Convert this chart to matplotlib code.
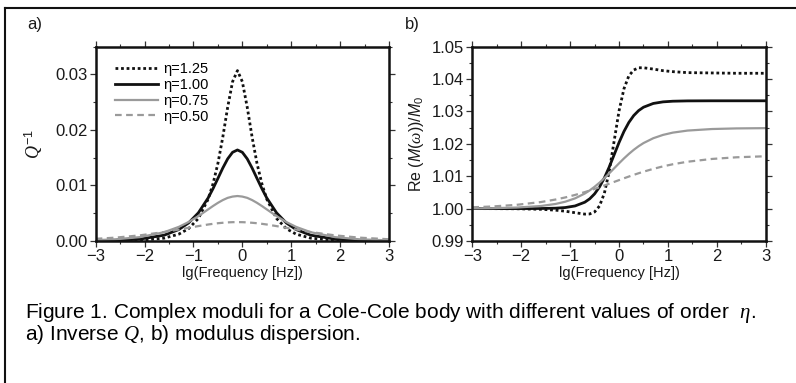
import matplotlib
matplotlib.use("Agg")
import matplotlib.pyplot as plt
from matplotlib.lines import Line2D
from matplotlib.ticker import MultipleLocator

# ---- data ----
lgf = [-3.0, -2.6, -2.1, -1.6, -1.3, -1.1, -0.9, -0.7, -0.6, -0.5, -0.4, -0.3, -0.2, -0.1,
       0.0, 0.1, 0.2, 0.3, 0.4, 0.5, 0.7, 0.9, 1.1, 1.4, 1.9, 2.4, 3.0]

eta_labels = ["η=1.25", "η=1.00", "η=0.75", "η=0.50"]

q_125 = [0.000009, 0.00003, 0.00012, 0.00051, 0.00123, 0.00222, 0.00406, 0.00753, 0.0103,
         0.01397, 0.0187, 0.0241, 0.0287, 0.0307, 0.0287, 0.0241, 0.0187, 0.01397, 0.0103,
         0.00753, 0.00406, 0.00222, 0.00123, 0.00051, 0.00012, 0.00003, 0.000005]
q_100 = [0.00004, 0.0001, 0.00033, 0.00104, 0.00206, 0.00325, 0.00507, 0.00775, 0.00943,
         0.01127, 0.01314, 0.0148, 0.01598, 0.0164, 0.01598, 0.0148, 0.01314, 0.01127, 0.00943,
         0.00775, 0.00507, 0.00325, 0.00206, 0.00104, 0.00033, 0.0001, 0.00003]
q_075 = [0.00015, 0.0003, 0.00069, 0.00158, 0.00254, 0.00341, 0.00448, 0.00569, 0.0063,
         0.00687, 0.00737, 0.00777, 0.0080, 0.0081, 0.0080, 0.00777, 0.00737, 0.00687, 0.0063,
         0.00569, 0.00448, 0.00341, 0.00254, 0.00158, 0.00069, 0.0003, 0.00011]
q_050 = [0.00039, 0.0006, 0.00101, 0.00161, 0.00206, 0.00237, 0.00268, 0.00297, 0.00309,
         0.0032, 0.00328, 0.00335, 0.00339, 0.0034, 0.00339, 0.00335, 0.00328, 0.0032, 0.00309,
         0.00297, 0.00268, 0.00237, 0.00206, 0.00161, 0.00101, 0.0006, 0.00031]

m_125 = [1.0000, 0.99999, 0.99995, 0.99979, 0.99952, 0.9992, 0.99873, 0.9983, 0.99835,
         0.99897, 1.0008, 1.00476, 1.0116, 1.0209, 1.0302, 1.0370, 1.0410, 1.0428, 1.0435,
         1.0435, 1.0431, 1.0426, 1.0423, 1.0420, 1.0419, 1.0418, 1.0418]
m_100 = [1.0000, 1.0000, 1.0000, 1.00003, 1.00013, 1.00033, 1.00082, 1.00198, 1.00303,
         1.00456, 1.00669, 1.00948, 1.01288, 1.01665, 1.02042, 1.02382, 1.02661, 1.02874,
         1.03027, 1.03132, 1.03248, 1.03297, 1.03317, 1.03327, 1.0333, 1.0333, 1.0333]
m_075 = [1.00006, 1.00013, 1.00032, 1.0008, 1.00143, 1.00213, 1.00316, 1.00466, 1.00563,
         1.00675, 1.00801, 1.00941, 1.0109, 1.01245, 1.01399, 1.01549, 1.01688, 1.01815,
         1.01927, 1.02024, 1.02174, 1.02277, 1.02347, 1.0241, 1.02458, 1.02477, 1.02485]
m_050 = [1.00041, 1.00065, 1.00116, 1.00202, 1.0028, 1.00345, 1.00422, 1.0051, 1.00558,
         1.00608, 1.0066, 1.00714, 1.0077, 1.00825, 1.0088, 1.00936, 1.0099, 1.01042,
         1.01092, 1.0114, 1.01228, 1.01305, 1.0137, 1.01448, 1.01534, 1.01585, 1.01617]

# ---- style ----
plt.rcParams['font.family'] = ['Liberation Sans', 'DejaVu Sans']
plt.rcParams['mathtext.fontset'] = 'custom'
plt.rcParams['mathtext.rm'] = 'Liberation Sans'
plt.rcParams['mathtext.it'] = 'Liberation Serif:italic'
plt.rcParams['mathtext.sf'] = 'Liberation Sans:italic'
plt.rcParams['mathtext.bf'] = 'Liberation Sans:bold'

styles = [
    dict(color='#111111', lw=2.0, ls=(0, (1, 1))),
    dict(color='#111111', lw=2.0, ls='-'),
    dict(color='#9a9a9a', lw=1.6, ls='-'),
    dict(color='#9a9a9a', lw=1.6, ls=(0, (3, 2))),
]

fig = plt.figure(figsize=(7.96, 3.83), dpi=100)
ax_a = fig.add_axes([0.1202, 0.3708, 0.3685, 0.5072])
ax_b = fig.add_axes([0.5934, 0.3708, 0.3686, 0.5072])


def style_axes(ax, ymin, ymax, ymaj, ymin_step, yfmt):
    ax.set_xlim(-3, 3)
    ax.set_ylim(ymin, ymax)
    ax.xaxis.set_major_locator(MultipleLocator(1))
    ax.xaxis.set_minor_locator(MultipleLocator(0.5))
    ax.yaxis.set_major_locator(MultipleLocator(ymaj))
    ax.yaxis.set_minor_locator(MultipleLocator(ymin_step))
    ax.yaxis.set_major_formatter(plt.FormatStrFormatter(yfmt))
    for s in ax.spines.values():
        s.set_linewidth(1.8)
        s.set_color('#111111')
    ax.tick_params(which='both', direction='out', top=True, right=True,
                   labeltop=False, labelright=False, color='#333333')
    ax.tick_params(which='major', length=4, width=0.9, labelsize=12, pad=2,
                   labelcolor='#1a1a1a')
    ax.tick_params(which='minor', length=2, width=0.8)
    ax.set_xlabel('lg(Frequency [Hz])', fontsize=10.5, labelpad=1, color='#1a1a1a')


q_series = [q_125, q_100, q_075, q_050]
m_series = [m_125, m_100, m_075, m_050]

for ys, st, lab in zip(q_series, styles, eta_labels):
    ax_a.plot(lgf, ys, label=lab, **st)
for ys, st in zip(m_series, styles):
    ax_b.plot(lgf, ys, **st)

style_axes(ax_a, 0.0, 0.035, 0.01, 0.005, '%.2f')
style_axes(ax_b, 0.99, 1.05, 0.01, 0.005, '%.2f')

ax_a.set_ylabel('$Q^{-1}$', fontsize=13, labelpad=7, color='#1a1a1a')
ax_b.set_ylabel(r'Re $(\mathsf{M}(\omega))/\mathsf{M}_0$', fontsize=11.5, labelpad=4,
                color='#1a1a1a')

ax_a.legend(loc='upper left', frameon=False, fontsize=10.5, handlelength=3.0,
            handletextpad=0.3, labelspacing=0.12, borderaxespad=0.0,
            bbox_to_anchor=(0.045, 0.95))

fig.text(27 / 796, 1 - 25 / 383, 'a)', fontsize=12, ha='left', va='center', color='#1a1a1a')
fig.text(405 / 796, 1 - 25 / 383, 'b)', fontsize=12, ha='left', va='center', color='#1a1a1a')

fig.text(25 / 796, 1 - 313 / 383,
         r'Figure 1. Complex moduli for a Cole-Cole body with different values of order  $\eta$.',
         fontsize=15, ha='left', va='center')
fig.text(25 / 796, 1 - 335 / 383, r'a) Inverse $Q$, b) modulus dispersion.',
         fontsize=15, ha='left', va='center')

# outer frame (left and top edges)
fig.add_artist(Line2D([5 / 796, 5 / 796], [0, 1 - 8 / 383], transform=fig.transFigure,
                      color='#111111', lw=1.5))
fig.add_artist(Line2D([5 / 796, 1], [1 - 8 / 383, 1 - 8 / 383], transform=fig.transFigure,
                      color='#111111', lw=1.5))

fig.savefig('out.png', dpi=100)
